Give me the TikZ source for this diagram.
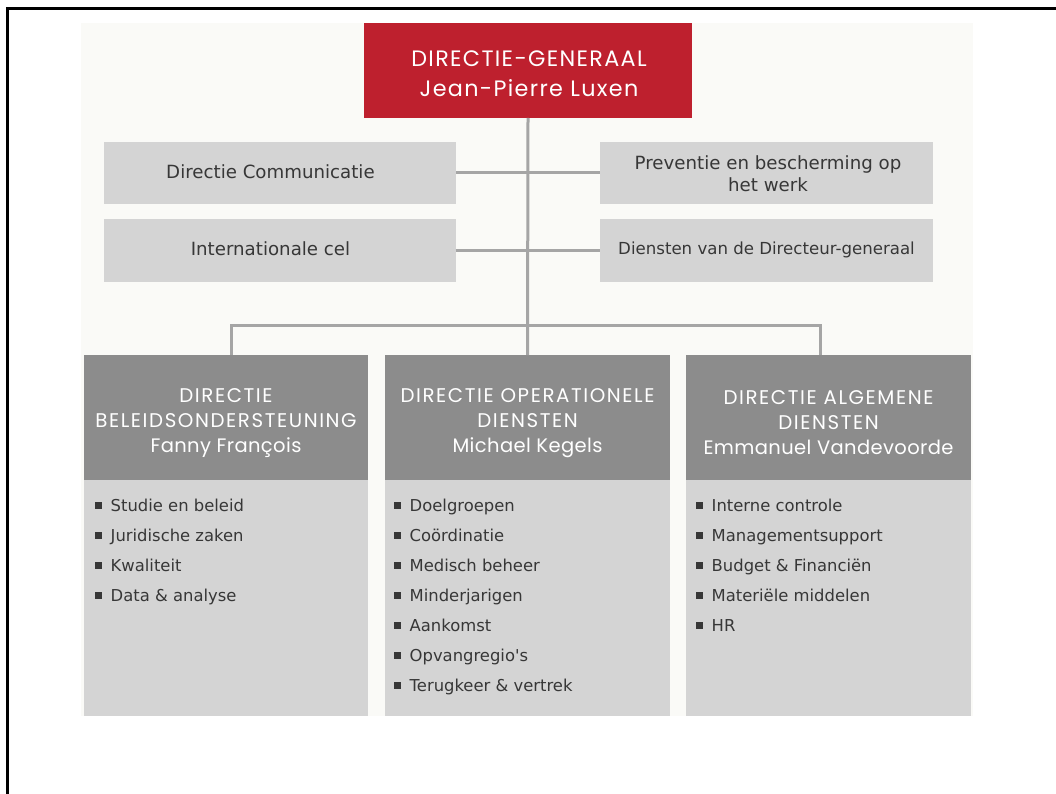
\documentclass[tikz,border=0pt]{standalone}
\usepackage{fontspec}
\setmainfont{DejaVu Sans}[Ligatures=TeXOff]
\newfontfamily\hcaps[LetterSpace=8]{Poppins}
\newfontfamily\hname[LetterSpace=2]{Poppins}
\newfontfamily\hred[LetterSpace=6]{Poppins}
\definecolor{dgred}{RGB}{190,32,46}
\definecolor{boxgray}{RGB}{212,212,212}
\definecolor{headgray}{RGB}{140,140,140}
\definecolor{txtgray}{RGB}{55,55,55}
\definecolor{conngray}{RGB}{165,165,165}
\definecolor{bgc}{RGB}{250,250,247}
\newcommand{\blt}{{\color{txtgray}\rule[3pt]{6.5pt}{6.5pt}}\hspace{9pt}}
\newcommand{\nm}[1]{{\hname\fontsize{19.5}{25}\selectfont #1}}
\tikzset{
  dgbox/.style={fill=dgred, minimum width=328pt, minimum height=95pt, inner sep=0pt, outer sep=0pt},
  dgtext/.style={text=white, font=\hred\fontsize{22.3}{30}\selectfont, align=center, inner sep=0pt},
  sidebox/.style={fill=boxgray, minimum height=62pt, inner sep=0pt, outer sep=0pt},
  sidetext/.style={text=txtgray, font=\fontsize{18.2}{22}\selectfont, align=center, inner sep=0pt},
  headbox/.style={fill=headgray, minimum width=285pt, minimum height=125pt, inner sep=0pt, outer sep=0pt},
  headtext/.style={text=white, font=\hcaps\fontsize{19.8}{25}\selectfont, align=center, inner sep=0pt},
  listbox/.style={fill=boxgray, minimum width=285pt, minimum height=236pt, inner sep=0pt, outer sep=0pt},
  itemtext/.style={anchor=base west, inner sep=0pt, text=txtgray, font=\fontsize{16.4}{20}\selectfont},
  conn/.style={draw=conngray, line width=3pt}
}
\begin{document}
\begin{tikzpicture}[x=1pt,y=-1pt]
\useasboundingbox (0,0) rectangle (1056,794);
\fill[white] (0,0) rectangle (1056,794);
\fill[bgc] (81,23) rectangle (973,716);
\draw[black, line width=3pt] (7.5,794) -- (7.5,8.5) -- (1056,8.5);

\coordinate (bL) at (231,325);
\coordinate (bR) at (820,325);

\node[dgbox] (dg) at (528,70.5) {};
\node[dgtext] (dgt) at (529,73.5) {DIRECTIE-GENERAAL\\Jean-Pierre Luxen};

\node[sidebox, minimum width=352pt] (dc) at (280,173) {};
\node[sidebox, minimum width=352pt, minimum height=63pt] (ic) at (279.5,250.5) {};
\node[sidebox, minimum width=333pt] (pb) at (766.5,173) {};
\node[sidebox, minimum width=333pt, minimum height=63pt] (dd) at (766.5,250.5) {};
\node[sidetext] (dct) at (270.5,172) {Directie Communicatie};
\node[sidetext] (ict) at (270.5,249) {Internationale cel};
\node[sidetext] (pbt) at (768,173.5) {Preventie en bescherming op\\het werk};
\node[sidetext, font=\fontsize{16.6}{20}\selectfont] (ddt) at (766.5,250) {Diensten van de Directeur-generaal};

\node[headbox, minimum width=284pt] (hl) at (226,417.5) {};
\node[headbox] (hm) at (527.5,417.5) {};
\node[headbox] (hr) at (828.5,417.5) {};
\node[headtext] (hlt) at (226,423) {DIRECTIE\\BELEIDSONDERSTEUNING\\\nm{Fanny François}};
\node[headtext] (hmt) at (527.5,423) {DIRECTIE OPERATIONELE\\DIENSTEN\\\nm{Michael Kegels}};
\node[headtext] (hrt) at (828.5,423) {DIRECTIE ALGEMENE\\DIENSTEN\\\nm{Emmanuel Vandevoorde}};

\node[listbox, minimum width=284pt] (ll) at (226,598) {};
\node[listbox] (lm) at (527.5,598) {};
\node[listbox] (lr) at (828.5,598) {};

\draw[conn] (dg.south) -- (hm.north);
\draw[conn] (hl.north -| bL) -- (bL) -- (bR) -- (hr.north -| bR);
\draw[conn] (dc.east) -- (pb.west);
\draw[conn] (ic.east) -- (dd.west);

\foreach \t [count=\i] in {Studie en beleid, Juridische zaken, Kwaliteit, Data \& analyse}
  \node[itemtext] (a\i) at (95,{511.5+30*(\i-1)}) {\blt\t};
\foreach \t [count=\i] in {Doelgroepen, Coördinatie, Medisch beheer, Minderjarigen, Aankomst, Opvangregio's, Terugkeer \& vertrek}
  \node[itemtext] (b\i) at (394,{511.5+30*(\i-1)}) {\blt\t};
\foreach \t [count=\i] in {Interne controle, Managementsupport, Budget \& Financiën, Materiële middelen, HR}
  \node[itemtext] (c\i) at (696,{511.5+30*(\i-1)}) {\blt\t};
\end{tikzpicture}
\end{document}
